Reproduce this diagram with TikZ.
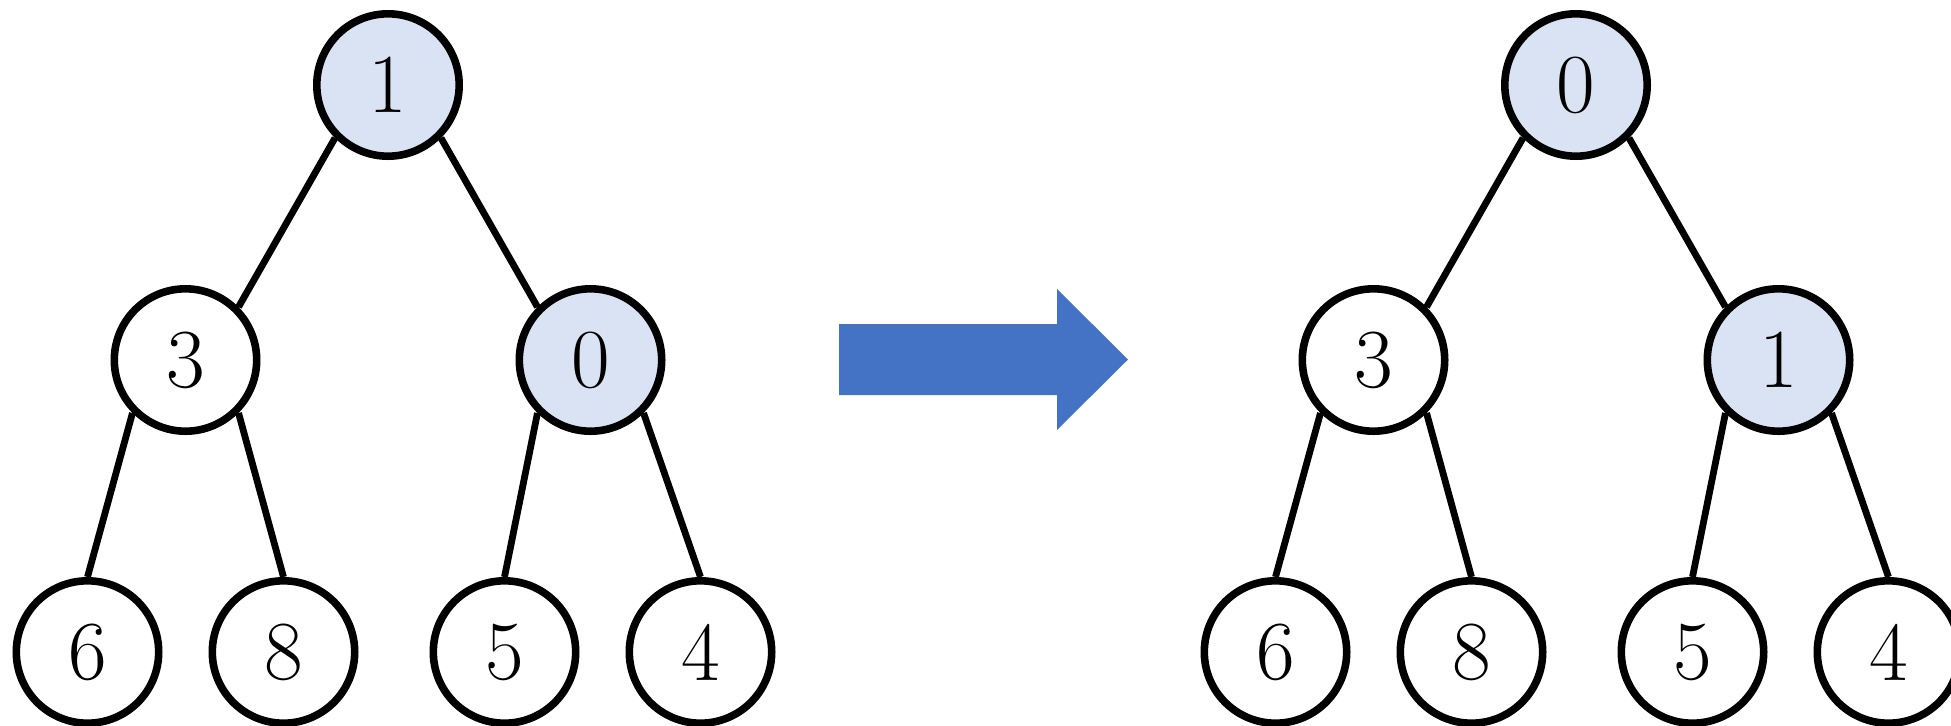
\documentclass[tikz,border=0pt]{standalone}
\usepackage{tikz}
\definecolor{heapblue}{HTML}{DAE3F3}
\definecolor{arrowblue}{HTML}{4472C4}

\begin{document}
\begin{tikzpicture}[x=0.5pt, y=-0.5pt]
        \tikzstyle{every node}=[draw, circle, line width=3.8pt, inner sep=0pt, minimum size=71.2pt, font=\fontsize{42}{48}\selectfont]
        \tikzstyle{edge from parent}=[draw, line width=3.4pt]
        \tikzstyle{level 1}=[level distance=137.5pt, sibling distance=202.5pt]
        \tikzstyle{level 2}=[level distance=146pt, sibling distance=98pt]
        \tikzstyle{moved}=[fill=heapblue]
        \tikzstyle{armleft}=[edge from parent path={(\tikzparentnode.south west) -- (\tikzchildnode.north east)}]
        \tikzstyle{armright}=[edge from parent path={(\tikzparentnode.south east) -- (\tikzchildnode.north west)}]
        \tikzstyle{legleft}=[edge from parent path={(\tikzparentnode.south west) -- (\tikzchildnode.north)}]
        \tikzstyle{legright}=[edge from parent path={(\tikzparentnode.south east) -- (\tikzchildnode.north)}]
        \useasboundingbox (0,0) rectangle (1951,725);
        \node[moved] (a1) at (388,85) {1} child[armleft] {node (a3) {3} child[legleft] {node (a6) {6}} child[legright] {node (a8) {8}}} child[armright] {node[moved] (a0) {0} child[legleft, xshift=6pt] {node (a5) {5}} child[legright, xshift=6pt] {node (a4) {4}}};
        \fill[arrowblue] (839,324) -- (1057,324) -- (1057,289) -- (1128,359.5) -- (1057,430) -- (1057,395) -- (839,395) -- cycle;
        \node[moved] (b0) at (1576,85) {0} child[armleft] {node (b3) {3} child[legleft] {node (b6) {6}} child[legright] {node (b8) {8}}} child[armright] {node[moved] (b1) {1} child[legleft, xshift=6pt] {node (b5) {5}} child[legright, xshift=6pt] {node (b4) {4}}};
    \end{tikzpicture}
\end{document}
